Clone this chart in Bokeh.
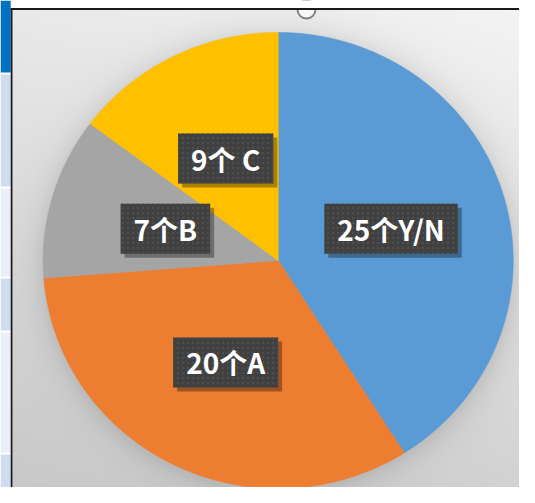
import numpy as np
from bokeh.plotting import figure
from bokeh.models import Range1d, ColumnDataSource
from bokeh.core.properties import value
from bokeh.embed import file_html
from bokeh.resources import INLINE

# ---- data ----
categories = ["Y/N", "A", "B", "C"]
counts = [25, 20, 7, 9]
labels = ["25个Y/N", "20个A", "7个B", "9个 C"]
colors = ["#5B9BD5", "#ED7D31", "#A5A5A5", "#FFC000"]

# ---- layout (picture pixel coordinates; data y = -pixel y) ----
W, H = 519, 487
CX, CY = 277.7, 260.0
RX, RY = 235.0, 228.0

p = figure(width=W, height=H, x_range=Range1d(0, W), y_range=Range1d(-H, 0),
           output_backend="svg", toolbar_location=None, min_border=0,
           x_axis_type=None, y_axis_type=None)
p.grid.visible = False
p.outline_line_color = None
p.background_fill_color = "white"
p.border_fill_color = None

# ---- chart-area background gradient with a soft pie shadow ----
BX0, BY0 = 12, 9
BW, BH = W - BX0, H - BY0
xs = BX0 + np.arange(BW) + 0.5
ys = H - (np.arange(BH) + 0.5)  # row 0 = bottom
xx, yy = np.meshgrid(xs, ys)
base = 0.955 - 0.13 * (yy - BY0) / BH - 0.04 * (1 - (xx - BX0) / BW)
r = np.sqrt(((xx - CX) / RX) ** 2 + ((yy - CY - 3) / RY) ** 2)
d = np.clip((r - 1) * 232, 0, None)
shadow = 0.10 * np.exp(-d / 13.0)
v = np.clip(base * (1 - shadow), 0, 1)
img = np.empty((BH, BW), dtype=np.uint32)
view = img.view(dtype=np.uint8).reshape((BH, BW, 4))
g = (v * 255).astype(np.uint8)
view[:, :, 0] = g
view[:, :, 1] = g
view[:, :, 2] = g
view[:, :, 3] = 255
p.image_rgba(image=[img], x=BX0, y=-H, dw=BW, dh=BH)

# ---- pie slices ----
total = float(sum(counts))
ends = np.cumsum(counts) / total * 2 * np.pi
starts = np.concatenate([[0.0], ends[:-1]])
pxs, pys, mids = [], [], []
for s, e in zip(starts, ends):
    t = np.linspace(s, e, 240)
    pxs.append(np.concatenate([[CX], CX + RX * np.sin(t)]))
    pys.append(np.concatenate([[-CY], -CY + RY * np.cos(t)]))
    mids.append((s + e) / 2)
mids = np.array(mids)
src = ColumnDataSource(dict(xs=pxs, ys=pys, color=colors, cat=categories))
p.patches("xs", "ys", source=src, fill_color="color", line_color="color", line_width=0.6)

# ---- data labels ----
lx = CX + 0.5 * RX * np.sin(mids)
ly = -CY + 0.5 * RY * np.cos(mids)
lsrc = ColumnDataSource(dict(x=lx, y=ly, text=labels))
font = value("Noto Sans CJK SC")
p.text("x", "y", text="text", source=lsrc, x_offset=4, y_offset=4,
       text_font=font, text_font_size="28px", text_font_style="bold",
       text_align="center", text_baseline="middle", text_alpha=0,
       background_fill_color="black", background_fill_alpha=0.33, padding=(13, 5))
p.text("x", "y", text="text", source=lsrc,
       text_font=font, text_font_size="28px", text_font_style="bold",
       text_color="white", text_align="center", text_baseline="middle",
       background_fill_color="#404040", padding=(13, 5),
       background_hatch_pattern="dot", background_hatch_color="#4e4e4e",
       background_hatch_scale=5, background_hatch_weight=1)

# ---- selection handle at top (only its lower part shows) ----
p.scatter([306], [-9], size=18, fill_color="#f8f8f8", line_color="#7f7f7f", line_width=2)
p.quad(left=12, right=W, top=0, bottom=-7.5, fill_color="white", line_color=None)

# ---- left spreadsheet strip & chart border ----
cell_top = [0, 74, 188, 278, 332, 454]
cell_bot = [72, 186, 276, 330, 452, 490]
cell_col = ["#0070C0", "#cfdbee", "#e9eef7", "#cfdbee", "#e9eef7", "#cfdbee"]
p.quad(left=0, right=10.2, top=[-t for t in cell_top], bottom=[-b for b in cell_bot],
       fill_color=cell_col, line_color=None)
p.quad(left=10.2, right=12, top=-7.5, bottom=-H, fill_color="#1a1a1a", line_color=None)
p.quad(left=10.2, right=W, top=-7.5, bottom=-9.4, fill_color="#1a1a1a", line_color=None)

open("out.html", "w").write(file_html(p, INLINE))
